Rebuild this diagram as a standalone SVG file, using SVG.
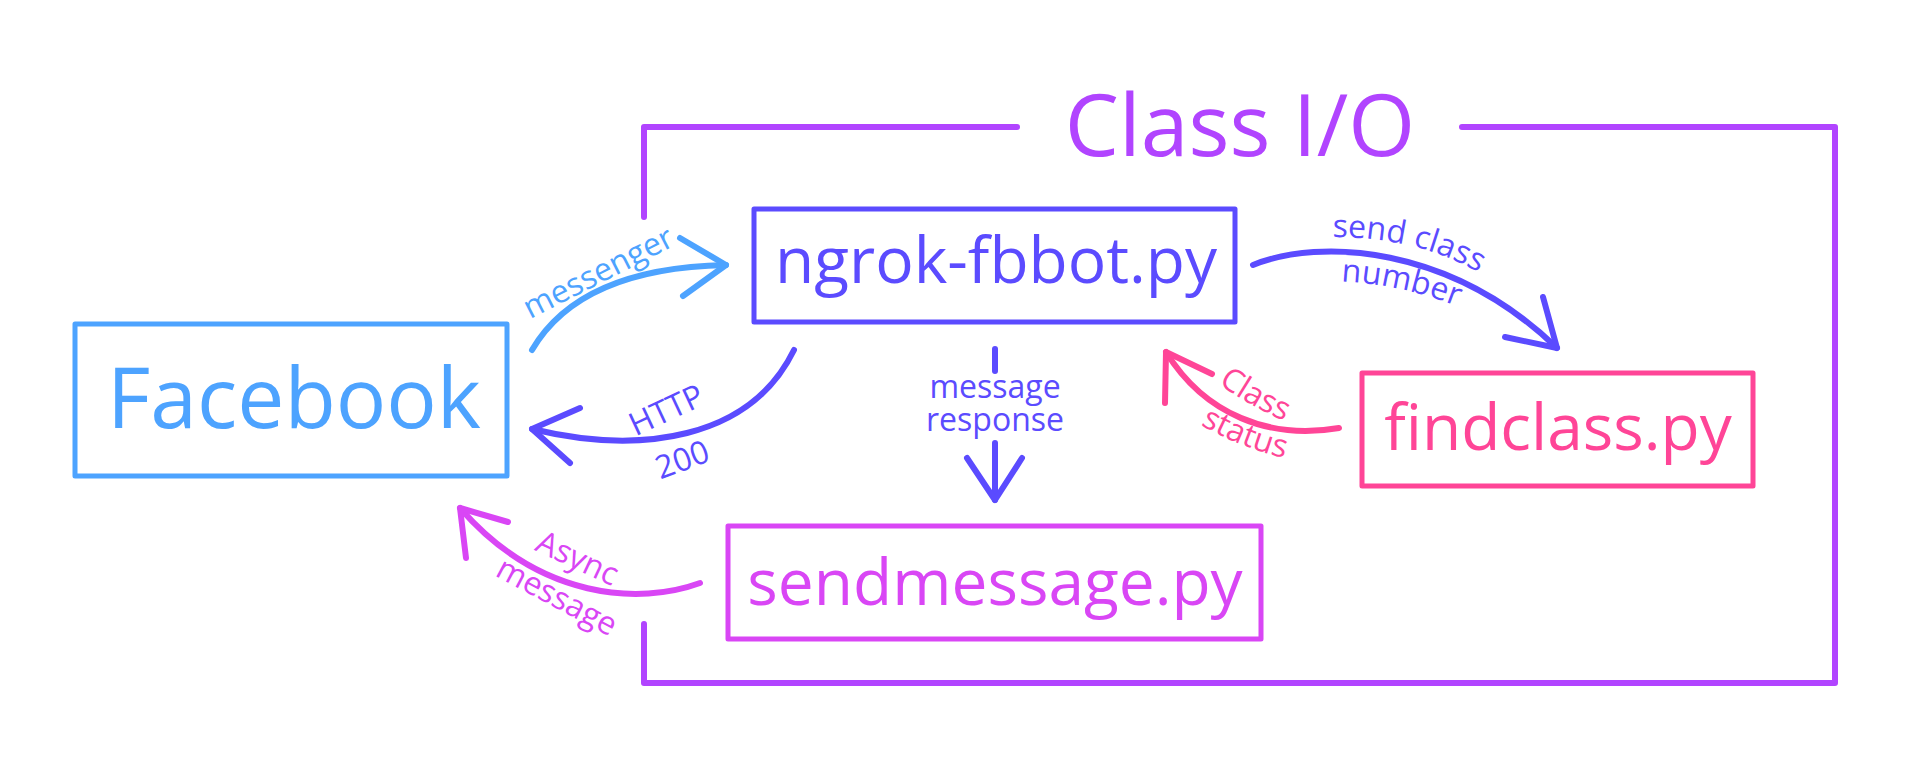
<svg xmlns="http://www.w3.org/2000/svg" width="1912" height="764" viewBox="0 0 1912 764">
<style>
  text { font-family: "Open Sans", "Noto Sans", "Liberation Sans", sans-serif; }
  .box { fill: none; stroke-width: 5; stroke-linejoin: round; }
  .big { font-size: 64px; text-anchor: middle; }
  .fb { font-size: 84px; text-anchor: middle; }
  .title { font-size: 86px; text-anchor: middle; }
  .lbl { font-size: 32px; text-anchor: middle; }
  .conn { fill: none; stroke-width: 6; stroke-linecap: round; stroke-linejoin: round; }
  .blue { stroke: #4DA3FF; } .blueT { fill: #4DA3FF; }
  .indigo { stroke: #5B4BFF; } .indigoT { fill: #5B4BFF; }
  .pink { stroke: #FF4597; } .pinkT { fill: #FF4597; }
  .mag { stroke: #D946F5; } .magT { fill: #D946F5; }
  .purple { stroke: #B144FF; } .purpleT { fill: #B144FF; }
</style>
<defs>
  <path id="tp-send" d="M1326,237 Q1420,236 1484,276"/>
  <path id="tp-number" d="M1334,281 Q1400,283 1464,309"/>
  <path id="tp-class" d="M1210,377 Q1245,405 1294,425"/>
  <path id="tp-status" d="M1190,419 Q1240,449 1296,461"/>
</defs>
<rect width="1912" height="764" fill="#FFFFFF"/>

<g id="class-io-frame">
  <path class="conn purple" stroke-linecap="butt" d="M644,217 L644,127 L1017,127"/>
  <path class="conn purple" stroke-linecap="butt" d="M1462,127 L1835,127 L1835,683 L644,683 L644,624"/>
  <text class="title purpleT" x="1240" y="156">Class I/O</text>
</g>

<g id="facebook">
  <rect class="box blue" x="75" y="324" width="432" height="152"/>
  <text class="fb blueT" x="294" y="428">Facebook</text>
</g>

<g id="ngrok-fbbot">
  <rect class="box indigo" x="754" y="209" width="481" height="113"/>
  <text class="big indigoT" x="996" y="283">ngrok-fbbot.py</text>
</g>

<g id="findclass">
  <rect class="box pink" x="1362" y="373" width="391" height="113"/>
  <text class="big pinkT" x="1558" y="450">findclass.py</text>
</g>

<g id="sendmessage">
  <rect class="box mag" x="728" y="526" width="533" height="113"/>
  <text class="big magT" x="995" y="605">sendmessage.py</text>
</g>

<g id="connectors">
  <!-- messenger -->
  <path class="conn blue" d="M532,350 Q580,268 726,265"/>
  <path class="conn blue" d="M680,238 L726,265 L683,296"/>
  <text class="lbl blueT" transform="translate(603,282) rotate(-27)">messenger</text>

  <!-- HTTP 200 -->
  <path class="conn indigo" d="M794,350 C750,440 640,455 532,429"/>
  <path class="conn indigo" d="M580,408 L532,429 L570,463"/>
  <text class="lbl indigoT" transform="translate(671,420) rotate(-25)">HTTP</text>
  <text class="lbl indigoT" transform="translate(686,470) rotate(-20)">200</text>

  <!-- message response -->
  <path class="conn indigo" d="M995,349 L995,371"/>
  <path class="conn indigo" d="M995,443 L995,500"/>
  <path class="conn indigo" d="M967,458 L995,500 L1022,458"/>
  <text class="lbl indigoT" x="995" y="398">message</text>
  <text class="lbl indigoT" x="995" y="431">response</text>

  <!-- send class number -->
  <path class="conn indigo" d="M1253,265 C1320,238 1450,245 1557,348"/>
  <path class="conn indigo" d="M1543,297 L1557,348 L1505,337"/>
  <text class="lbl indigoT"><textPath href="#tp-send" startOffset="50%">send class</textPath></text>
  <text class="lbl indigoT"><textPath href="#tp-number" startOffset="50%">number</textPath></text>

  <!-- Class status -->
  <path class="conn pink" d="M1339,428 C1270,440 1205,415 1166,352"/>
  <path class="conn pink" d="M1165,403 L1166,352 L1212,374"/>
  <text class="lbl pinkT"><textPath href="#tp-class" startOffset="50%">Class</textPath></text>
  <text class="lbl pinkT"><textPath href="#tp-status" startOffset="50%">status</textPath></text>

  <!-- Async message -->
  <path class="conn mag" d="M700,583 C640,605 540,600 460,508"/>
  <path class="conn mag" d="M466,558 L460,508 L508,522"/>
  <text class="lbl magT" transform="translate(573,568) rotate(25)">Async</text>
  <text class="lbl magT" transform="translate(552,606) rotate(28)">message</text>
</g>
</svg>
